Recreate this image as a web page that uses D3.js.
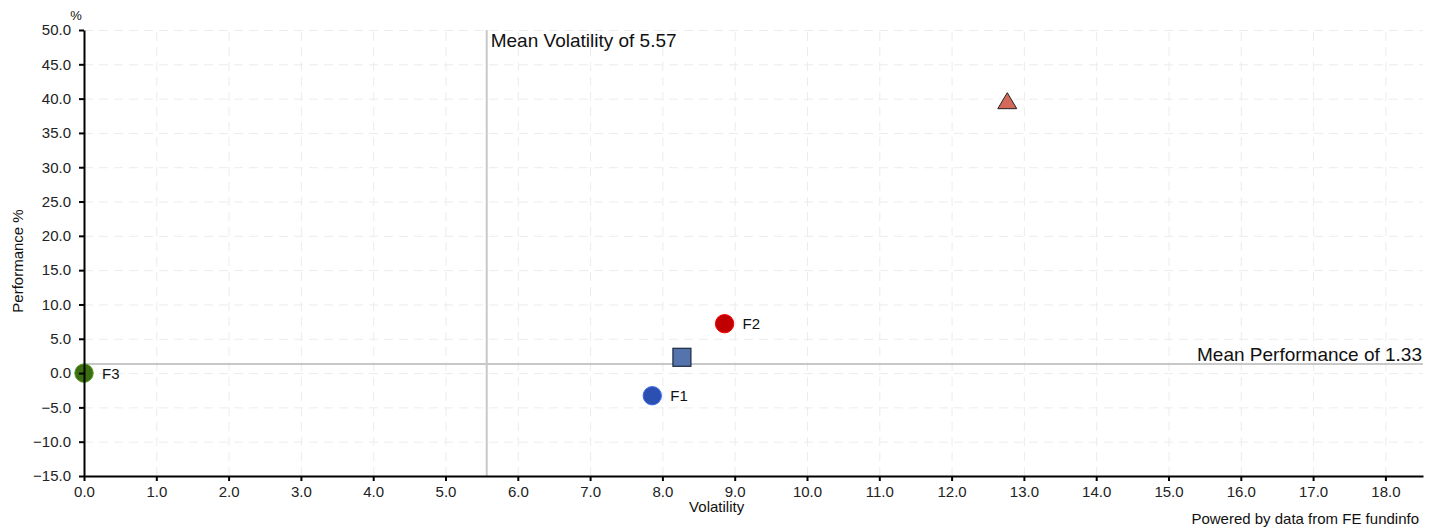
<!DOCTYPE html>
<html>
<head>
<meta charset="utf-8">
<script src="https://cdn.jsdelivr.net/npm/d3@7"></script>
<style>
  body { margin: 0; background: #fff; }
  svg { font-family: 'Liberation Sans', Arial, sans-serif; }
  .grid line { stroke: #ececec; stroke-dasharray: 9,6; }
  .grid path { display: none; }
  .axis path, .axis line { stroke: #000; stroke-width: 2; }
  .axis text { font-size: 15px; fill: #222; }
</style>
</head>
<body>
<div id="chart"></div>
<script>
// Fund points (volatility, performance)
const names = ['F1', 'F2', 'F3', 'Sector', 'Index']
const volatility = [7.86, 8.86, 0.0, 8.27, 12.77]
const performance = [-3.3, 7.2, 0.0, 2.3, 39.7]
const shapes = ['circle', 'circle', 'circle', 'square', 'triangle']
const colors = ['#2c50b2', '#c00000', '#3b6e13', '#5574ad', '#d4695b']
const showLabel = [true, true, true, false, false]

const meanVolatility = 5.57
const meanPerformance = 1.33

const xTicks = d3.range(0, 19, 1)
const yTicks = d3.range(-15, 55, 5)

// Vars for dimensions
const width = 1436
const height = 531
const margin = { top: 30, right: 13, bottom: 55, left: 84 }
const innerWidth = width - margin.left - margin.right
const innerHeight = height - margin.top - margin.bottom

const svg = d3.select('#chart')
  .append('svg')
  .attr('width', width)
  .attr('height', height)

const g = svg.append('g')
  .attr('transform', `translate(${margin.left}, ${margin.top})`)

const xScale = d3.scaleLinear().domain([0, 18.52]).range([0, innerWidth])
const yScale = d3.scaleLinear().domain([-15, 50]).range([innerHeight, 0])

// Gridlines
g.append('g')
  .attr('class', 'grid')
  .attr('transform', `translate(0, ${innerHeight})`)
  .call(d3.axisBottom(xScale).tickValues(xTicks).tickSize(-innerHeight).tickFormat(''))

g.append('g')
  .attr('class', 'grid')
  .call(d3.axisLeft(yScale).tickValues(yTicks).tickSize(-innerWidth).tickFormat(''))

// Mean lines
g.append('line')
  .attr('x1', xScale(meanVolatility))
  .attr('x2', xScale(meanVolatility))
  .attr('y1', 0)
  .attr('y2', innerHeight)
  .attr('stroke', '#c8c8c8')
  .attr('stroke-width', 2)

g.append('line')
  .attr('x1', 0)
  .attr('x2', innerWidth)
  .attr('y1', yScale(meanPerformance))
  .attr('y2', yScale(meanPerformance))
  .attr('stroke', '#c8c8c8')
  .attr('stroke-width', 2)

g.append('text')
  .attr('x', xScale(meanVolatility) + 4)
  .attr('y', 17)
  .attr('font-size', 19)
  .attr('fill', '#111')
  .text('Mean Volatility of ' + meanVolatility)

g.append('text')
  .attr('x', innerWidth - 1)
  .attr('y', yScale(meanPerformance) - 3)
  .attr('text-anchor', 'end')
  .attr('font-size', 19)
  .attr('fill', '#111')
  .text('Mean Performance of ' + meanPerformance)

// Points
const data = names.map((n, i) => ({
  name: n, x: volatility[i], y: performance[i], shape: shapes[i], color: colors[i], label: showLabel[i]
}))

data.forEach(d => {
  const cx = xScale(d.x)
  const cy = yScale(d.y)
  if (d.shape === 'circle') {
    g.append('circle')
      .attr('cx', cx).attr('cy', cy).attr('r', 9.2)
      .attr('fill', d.color)
      .attr('stroke', d3.color(d.color).brighter(0.8))
      .attr('stroke-width', 1)
  } else if (d.shape === 'square') {
    g.append('rect')
      .attr('x', cx - 9).attr('y', cy - 9)
      .attr('width', 18).attr('height', 18)
      .attr('fill', d.color)
      .attr('stroke', '#1a2a40')
      .attr('stroke-width', 1.2)
  } else {
    g.append('path')
      .attr('d', `M${cx},${cy - 8} L${cx + 9.5},${cy + 8} L${cx - 9.5},${cy + 8} Z`)
      .attr('fill', d.color)
      .attr('stroke', '#222')
      .attr('stroke-width', 1)
  }
  if (d.label) {
    g.append('text')
      .attr('x', cx + 18)
      .attr('y', cy + 5.5)
      .attr('font-size', 15)
      .attr('fill', '#111')
      .text(d.name)
  }
})

// Axes
g.append('g')
  .attr('class', 'axis')
  .attr('transform', `translate(0, ${innerHeight})`)
  .call(d3.axisBottom(xScale).tickValues(xTicks).tickSize(5).tickSizeOuter(0).tickFormat(d3.format('.1f')))
  .selectAll('text').attr('dy', '0.87em')

g.append('g')
  .attr('class', 'axis')
  .call(d3.axisLeft(yScale).tickValues(yTicks).tickSize(5).tickSizeOuter(0).tickFormat(d3.format('.1f')))
  .selectAll('text').attr('x', -13)

// Axis titles
svg.append('text')
  .attr('x', margin.left + xScale(8.75))
  .attr('y', 512)
  .attr('text-anchor', 'middle')
  .attr('font-size', 15)
  .attr('fill', '#111')
  .text('Volatility')

svg.append('text')
  .attr('transform', `translate(22.5, 261) rotate(-90)`)
  .attr('text-anchor', 'middle')
  .attr('font-size', 15)
  .attr('fill', '#111')
  .text('Performance %')

svg.append('text')
  .attr('x', 76)
  .attr('y', 20)
  .attr('text-anchor', 'middle')
  .attr('font-size', 13)
  .attr('fill', '#111')
  .text('%')

svg.append('text')
  .attr('x', 1419)
  .attr('y', 524)
  .attr('text-anchor', 'end')
  .attr('font-size', 15)
  .attr('fill', '#111')
  .text('Powered by data from FE fundinfo')
</script>
</body>
</html>
